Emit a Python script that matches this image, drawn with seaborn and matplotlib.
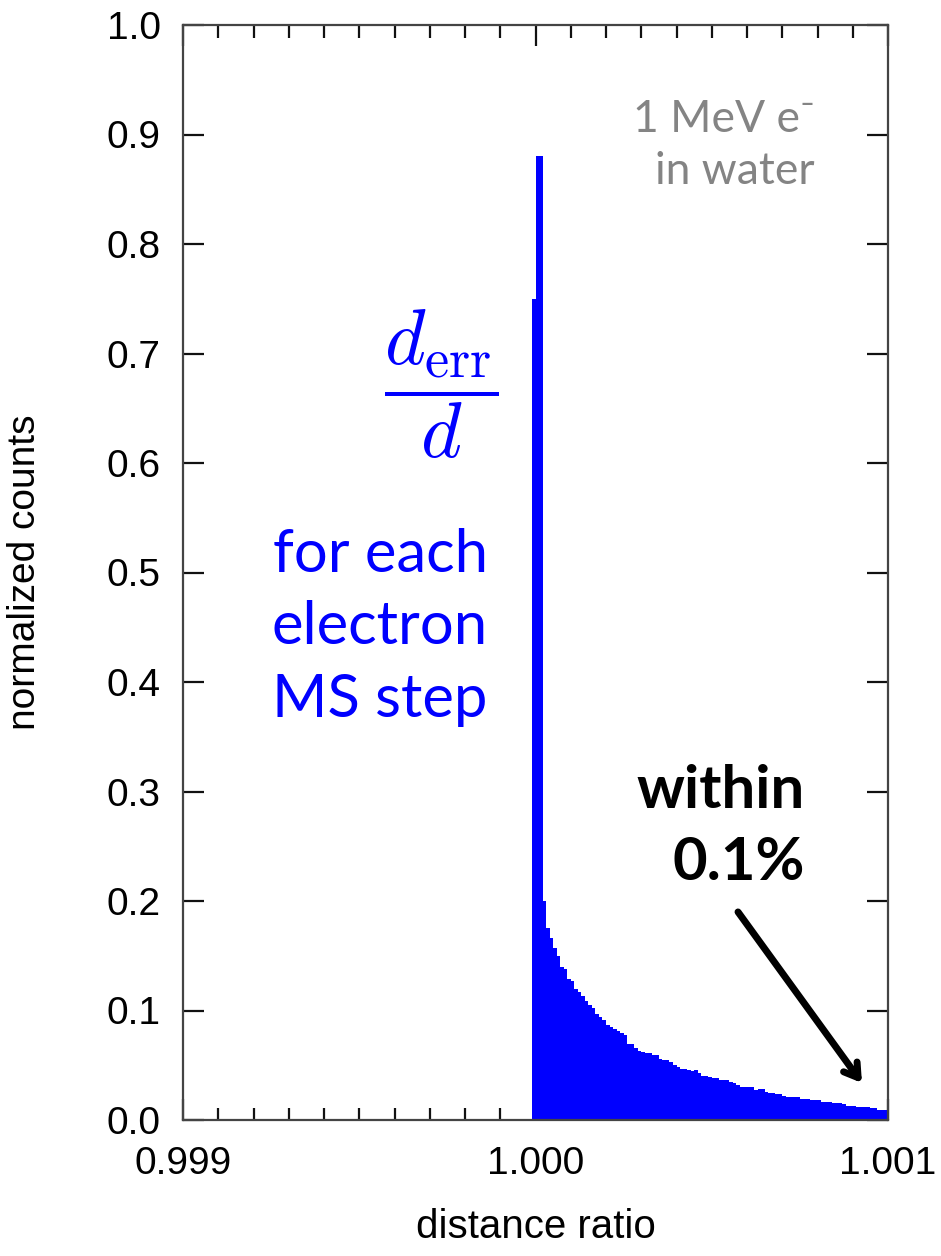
import numpy as np
import pandas as pd
import matplotlib
matplotlib.use("Agg")
import matplotlib.pyplot as plt
import seaborn as sns
from matplotlib.ticker import MultipleLocator, FixedLocator

# ---- data ----
bin_width = 1e-5
pre_bin_value = [0.75]  # bin just below 1.000
tail_values = [
    0.88, 0.88, 0.200, 0.175, 0.166, 0.157, 0.150, 0.140, 0.138, 0.1285,
    0.127, 0.120, 0.117, 0.113, 0.109, 0.105, 0.102, 0.097, 0.094, 0.091,
    0.087, 0.085, 0.083, 0.081, 0.079, 0.078, 0.069, 0.069, 0.066, 0.063,
    0.062, 0.0615, 0.061, 0.0594, 0.059, 0.056, 0.055, 0.055, 0.053, 0.050,
    0.048, 0.047, 0.047, 0.046, 0.045, 0.046, 0.0426, 0.040, 0.040, 0.0396,
    0.0387, 0.0387, 0.0365, 0.0365, 0.0365, 0.035, 0.0335, 0.032, 0.030, 0.030,
    0.0304, 0.0304, 0.0274, 0.028, 0.028, 0.0259, 0.0244, 0.0244, 0.0235, 0.0235,
    0.022, 0.0213, 0.0213, 0.0207, 0.0207, 0.0189, 0.0189, 0.0189, 0.0183, 0.0183,
    0.0183, 0.0167, 0.0165, 0.0165, 0.0152, 0.0152, 0.0152, 0.0150, 0.0128, 0.0128,
    0.0128, 0.0116, 0.0116, 0.0116, 0.0116, 0.0107, 0.0107, 0.0091, 0.0091, 0.0091,
]
x_ticks = [0.999, 1.000, 1.001]
x_tick_labels = ["0.999", "1.000", "1.001"]
y_ticks = [0.0, 0.1, 0.2, 0.3, 0.4, 0.5, 0.6, 0.7, 0.8, 0.9, 1.0]
y_tick_labels = ["0.0", "0.1", "0.2", "0.3", "0.4", "0.5", "0.6", "0.7", "0.8", "0.9", "1.0"]

values = pre_bin_value + tail_values
n_bins = len(values)
lo = 1.0 - bin_width
hi = lo + bin_width * n_bins
centers = lo + bin_width * (np.arange(n_bins) + 0.5)
df = pd.DataFrame({"ratio": centers, "count": values})

# ---- style ----
sns.set_theme(style="white")
plt.rcParams["font.family"] = ["Liberation Sans", "DejaVu Sans"]
plt.rcParams["mathtext.fontset"] = "cm"

fig = plt.figure(figsize=(9.41, 12.56), dpi=100)
ax = fig.add_axes([183 / 941, 1 - 1120 / 1256, 705 / 941, 1095 / 1256])

sns.histplot(data=df, x="ratio", weights="count", bins=n_bins,
             binrange=(lo, hi), ax=ax,
             color="#0000ff", alpha=1.0, linewidth=0, element="step",
             fill=True, stat="count", legend=False)

ax.set_xlim(0.999, 1.001)
ax.set_ylim(0.0, 1.0)

spine_col = "#444444"
for s in ax.spines.values():
    s.set_color(spine_col)
    s.set_linewidth(1.6)
    s.set_visible(True)
    s.set_zorder(5)

ax.xaxis.set_major_locator(FixedLocator(x_ticks))
ax.set_xticklabels(x_tick_labels)
ax.xaxis.set_minor_locator(MultipleLocator(0.0001))
ax.yaxis.set_major_locator(FixedLocator(y_ticks))
ax.set_yticklabels(y_tick_labels)

ax.tick_params(axis="both", which="major", direction="in", length=15,
               width=1.6, color="#111111", labelsize=28, labelcolor="black",
               top=True, right=True, bottom=True, left=True)
ax.tick_params(axis="x", which="major", pad=19)
ax.tick_params(axis="y", which="major", pad=16)
ax.tick_params(axis="x", which="minor", direction="in", length=9, width=1.6,
               color="#111111", top=True, bottom=True)

ax.set_xlabel("distance ratio", fontsize=29, color="black")
ax.set_ylabel("normalized counts", fontsize=28, color="black")
ax.xaxis.set_label_coords(0.5, -0.08)
ax.yaxis.set_label_coords(-0.199, 0.5)

# ---- annotations ----
ax.text(1.000793, 0.890, "1 MeV e\u207b\nin water", ha="right", va="center",
        multialignment="right", fontsize=32, color="#848484",
        family=["Lato", "DejaVu Sans"], linespacing=1.35)

ax.text(0.999732, 0.672, r"$\dfrac{d_{\rm err}}{d}$", ha="center", va="center",
        fontsize=56, color="#0000ff")

ax.text(0.999559, 0.450, "for each\nelectron\nMS step", ha="center", va="center",
        multialignment="center", fontsize=43, color="#0000ff",
        family=["Lato", "DejaVu Sans"], linespacing=1.42)

ax.text(1.0007645, 0.2676, "within\n0.1%", ha="right", va="center",
        multialignment="right", fontsize=43, color="black", fontweight="bold",
        family=["Lato", "DejaVu Sans"], linespacing=1.42)

ax.annotate("", xy=(1.0009262, 0.0338), xytext=(1.0005745, 0.190),
            arrowprops=dict(arrowstyle="->,head_length=0.8,head_width=0.5",
                            color="black", lw=5, shrinkA=0, shrinkB=0))

fig.savefig("out.png", dpi=100)
